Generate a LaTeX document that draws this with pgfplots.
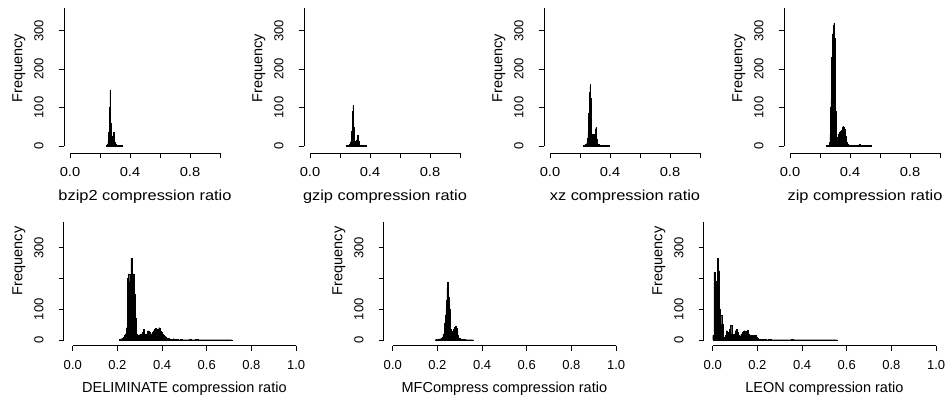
\documentclass[border=0pt]{standalone}
\usepackage{fontspec}
\setmainfont{Liberation Sans}
\newfontfamily\topfont[FakeStretch=1.13]{Liberation Sans}
\usepackage{pgfplots}
\pgfplotsset{compat=1.18}
\pgfplotsset{
  rbase/.style={
    scale only axis,
    axis line style={draw=none},
    tick align=outside,
    major tick length=5pt,
    every tick/.style={black, line width=0.7pt},
    xtick pos=bottom, ytick pos=left,
    xmin=-0.04, xmax=1.04, ymin=-19,
    xtick={0,0.2,0.4,0.6,0.8,1.0},
    ytick={0,100,200,300},
    clip=false,
    xticklabel style={font=\fontsize{13}{13}\selectfont, anchor=center, inner sep=0pt, yshift=-14pt},
    yticklabel style={font=\fontsize{13}{13}\selectfont, xshift=-20pt, rotate=90, anchor=center, inner sep=0pt},
    every axis x label/.style={at={(rel axis cs:0.5,0)}, anchor=center, yshift=-43pt, font=\fontsize{14.5}{14.5}\selectfont},
    every axis y label/.style={at={(rel axis cs:0,0)}, shift={(-45pt,85pt)}, rotate=90, anchor=center, font=\fontsize{14.5}{14.5}\selectfont},
    ylabel={Frequency},
  },
  rtop/.style={rbase, width=162pt, height=151.5pt, ymax=375,
    xticklabel style={font=\topfont\fontsize{13}{13}\selectfont},
    xlabel style={font=\topfont\fontsize{14.5}{14.5}\selectfont},
    xticklabels={0.0,,0.4,,0.8,}, yticklabels={0,100,200,300}},
  rbot/.style={rbase, width=241.2pt, height=128.9pt, ymax=400,
    xticklabels={0.0,0.2,0.4,0.6,0.8,1.0}, yticklabels={0,100,,300}},
  hbar/.style={ybar interval, fill=black, draw=black, line width=0.3pt},
}
\begin{document}
\begin{tikzpicture}
\path[use as bounding box] (0pt,0pt) rectangle (948pt,-400pt);

% ---------- bzip2 ----------
\begin{axis}[rtop, at={(64pt,-153.3pt)}, anchor=south west, xlabel={bzip2 compression ratio}]
\draw[line width=0.7pt] (axis cs:0,-19) -- (axis cs:1,-19);
\draw[line width=0.7pt] (axis cs:-0.04,0) -- (axis cs:-0.04,360);
\addplot[hbar] coordinates {
(0.240,1)(0.2425,1)(0.245,2)(0.2475,3)(0.25,6)(0.2525,12)(0.255,20)(0.2575,35)(0.26,60)(0.2625,100)
(0.265,146)(0.2675,110)(0.27,60)(0.2725,35)(0.275,25)(0.2775,20)(0.28,22)(0.2825,25)(0.285,28)(0.2875,32)
(0.29,35)(0.2925,30)(0.295,18)(0.2975,10)(0.30,6)(0.3025,4)(0.305,3)(0.3075,2)(0.31,2)(0.315,1)
(0.32,1)(0.325,1)(0.33,1)(0.335,1)(0.34,1)(0.345,1)(0.35,0)};
\end{axis}

% ---------- gzip ----------
\begin{axis}[rtop, at={(304pt,-153.3pt)}, anchor=south west, xlabel={gzip compression ratio}]
\draw[line width=0.7pt] (axis cs:0,-19) -- (axis cs:1,-19);
\draw[line width=0.7pt] (axis cs:-0.04,0) -- (axis cs:-0.04,360);
\addplot[hbar] coordinates {
(0.2425,1)(0.245,1)(0.25,2)(0.255,3)(0.26,4)(0.265,6)(0.27,9)(0.2725,14)(0.275,22)(0.2775,38)
(0.28,60)(0.2825,90)(0.285,105)(0.2875,85)(0.29,50)(0.2925,30)(0.295,20)(0.2975,12)(0.30,10)(0.3025,9)
(0.305,10)(0.3075,12)(0.31,15)(0.3125,20)(0.315,25)(0.3175,28)(0.32,24)(0.3225,12)(0.325,5)(0.3275,3)
(0.33,2)(0.335,2)(0.34,1)(0.345,1)(0.35,1)(0.355,1)(0.36,1)(0.365,1)(0.372,0)};
\end{axis}

% ---------- xz ----------
\begin{axis}[rtop, at={(544pt,-153.3pt)}, anchor=south west, xlabel={xz compression ratio}]
\draw[line width=0.7pt] (axis cs:0,-19) -- (axis cs:1,-19);
\draw[line width=0.7pt] (axis cs:-0.04,0) -- (axis cs:-0.04,360);
\addplot[hbar] coordinates {
(0.22,2)(0.225,2)(0.23,3)(0.235,4)(0.24,6)(0.245,10)(0.25,20)(0.2525,35)(0.255,55)(0.2575,85)
(0.26,115)(0.2625,140)(0.265,155)(0.2675,160)(0.27,125)(0.2725,85)(0.275,50)(0.2775,30)(0.28,22)(0.2825,18)
(0.285,20)(0.2875,25)(0.29,30)(0.2925,28)(0.295,25)(0.2975,30)(0.30,38)(0.3025,45)(0.305,48)(0.3075,35)
(0.31,18)(0.3125,10)(0.315,6)(0.32,4)(0.325,3)(0.33,3)(0.335,2)(0.34,2)(0.35,2)(0.36,1)
(0.37,2)(0.38,1)(0.395,0)};
\end{axis}

% ---------- zip ----------
\begin{axis}[rtop, at={(784pt,-153.3pt)}, anchor=south west, xlabel={zip compression ratio}]
\draw[line width=0.7pt] (axis cs:0,-19) -- (axis cs:1,-19);
\draw[line width=0.7pt] (axis cs:-0.04,0) -- (axis cs:-0.04,360);
\addplot[hbar] coordinates {
(0.24,1)(0.245,1)(0.25,2)(0.255,2)(0.26,3)(0.2625,10)(0.265,30)(0.2675,60)(0.27,100)(0.2725,120)
(0.275,170)(0.2775,230)(0.28,260)(0.2825,290)(0.285,295)(0.2875,305)(0.29,315)(0.2925,320)(0.295,318)(0.2975,280)
(0.30,180)(0.3025,90)(0.305,45)(0.3075,25)(0.31,20)(0.3125,18)(0.315,20)(0.3175,22)(0.32,25)(0.3225,30)
(0.325,35)(0.3275,33)(0.33,36)(0.3325,38)(0.335,34)(0.3375,38)(0.34,40)(0.3425,36)(0.345,40)(0.3475,44)
(0.35,48)(0.3525,50)(0.355,52)(0.3575,50)(0.36,48)(0.3625,45)(0.365,40)(0.3675,35)(0.37,25)(0.3725,15)
(0.375,10)(0.38,6)(0.385,4)(0.39,3)(0.40,2)(0.41,2)(0.42,2)(0.43,2)(0.44,2)(0.45,3)
(0.46,5)(0.465,2)(0.47,1)(0.48,1)(0.49,1)(0.50,1)(0.51,1)(0.52,1)(0.53,1)(0.544,0)};
\end{axis}

% ---------- DELIMINATE ----------
\begin{axis}[rbot, at={(63.8pt,-345.8pt)}, anchor=south west, xlabel={DELIMINATE compression ratio}]
\draw[line width=0.7pt] (axis cs:0,-19) -- (axis cs:1,-19);
\draw[line width=0.7pt] (axis cs:-0.04,0) -- (axis cs:-0.04,384);
\addplot[hbar] coordinates {
(0.21,3)(0.215,4)(0.22,5)(0.225,8)(0.23,15)(0.235,20)(0.24,40)(0.245,200)(0.25,215)(0.255,190)
(0.26,265)(0.265,200)(0.27,215)(0.275,150)(0.28,70)(0.285,20)(0.29,10)(0.295,15)(0.30,20)(0.305,15)
(0.31,25)(0.315,35)(0.32,20)(0.325,15)(0.33,20)(0.335,30)(0.34,25)(0.345,15)(0.35,20)(0.355,25)
(0.36,30)(0.365,35)(0.37,38)(0.375,30)(0.38,35)(0.385,40)(0.39,30)(0.395,25)(0.40,20)(0.405,15)
(0.41,12)(0.415,10)(0.42,6)(0.425,5)(0.43,4)(0.435,3)(0.44,3)(0.445,2)(0.45,4)(0.455,2)
(0.46,2)(0.47,1)(0.48,2)(0.49,1)(0.50,1)(0.51,1)(0.52,2)(0.53,1)(0.54,1)(0.55,2)
(0.56,1)(0.57,1)(0.58,1)(0.59,1)(0.60,1)(0.61,1)(0.62,1)(0.63,1)(0.64,1)(0.65,1)
(0.66,1)(0.67,1)(0.68,1)(0.69,1)(0.70,1)(0.712,0)};
\end{axis}

% ---------- MFCompress ----------
\begin{axis}[rbot, at={(383.8pt,-345.8pt)}, anchor=south west, xlabel={MFCompress compression ratio}]
\draw[line width=0.7pt] (axis cs:0,-19) -- (axis cs:1,-19);
\draw[line width=0.7pt] (axis cs:-0.04,0) -- (axis cs:-0.04,384);
\addplot[hbar] coordinates {
(0.19,1)(0.195,2)(0.20,2)(0.205,3)(0.21,4)(0.215,5)(0.22,8)(0.225,20)(0.23,55)(0.235,80)
(0.2375,100)(0.24,130)(0.2425,170)(0.245,187)(0.2475,160)(0.25,140)(0.2525,100)(0.255,50)(0.2575,35)(0.26,30)
(0.2625,25)(0.265,28)(0.27,35)(0.275,42)(0.28,45)(0.285,38)(0.29,15)(0.295,6)(0.30,4)(0.305,3)
(0.31,2)(0.315,2)(0.32,2)(0.325,1)(0.33,1)(0.335,1)(0.34,1)(0.345,1)(0.35,1)(0.358,0)};
\end{axis}

% ---------- LEON ----------
\begin{axis}[rbot, at={(703.8pt,-345.8pt)}, anchor=south west, xlabel={LEON compression ratio}]
\draw[line width=0.7pt] (axis cs:0,-19) -- (axis cs:1,-19);
\draw[line width=0.7pt] (axis cs:-0.04,0) -- (axis cs:-0.04,384);
\addplot[hbar] coordinates {
(0,15)(0.005,220)(0.01,150)(0.015,190)(0.02,265)(0.025,225)(0.03,100)(0.035,80)(0.04,50)(0.045,10)
(0.05,8)(0.055,15)(0.06,30)(0.065,20)(0.07,25)(0.075,35)(0.08,48)(0.085,20)(0.09,12)(0.095,20)
(0.10,30)(0.105,35)(0.11,25)(0.115,15)(0.12,12)(0.125,18)(0.13,25)(0.135,28)(0.14,30)(0.145,25)
(0.15,28)(0.155,32)(0.16,20)(0.165,15)(0.17,15)(0.175,14)(0.18,15)(0.185,12)(0.19,15)(0.195,10)
(0.20,6)(0.205,3)(0.21,3)(0.215,2)(0.22,2)(0.23,2)(0.24,1)(0.25,3)(0.26,1)(0.27,1)
(0.28,1)(0.29,1)(0.30,1)(0.31,1)(0.32,1)(0.33,1)(0.34,1)(0.35,2)(0.36,1)(0.37,1)
(0.38,1)(0.39,1)(0.40,1)(0.41,1)(0.42,1)(0.43,1)(0.44,1)(0.45,1)(0.46,1)(0.47,1)
(0.48,1)(0.49,1)(0.50,1)(0.51,1)(0.52,1)(0.53,1)(0.54,1)(0.555,0)};
\end{axis}
\end{tikzpicture}
\end{document}
